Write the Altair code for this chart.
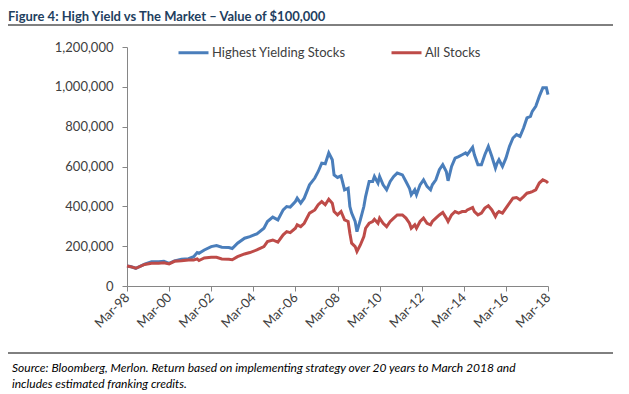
import altair as alt
import pandas as pd

TITLE = "Figure 4: High Yield vs The Market \u2013 Value of $100,000"
SOURCE_1 = "Source: Bloomberg, Merlon. Return based on implementing strategy over 20 years to March 2018 and"
SOURCE_2 = "includes estimated franking credits."
SERIES = ["Highest Yielding Stocks", "All Stocks"]
COLORS = ["#4A7EBB", "#BE4B48"]

dates = [
    "1998-03-01", "1998-05-01", "1998-08-01", "1999-01-01", "1999-05-01", "1999-09-01",
    "1999-12-01", "2000-03-01", "2000-06-01", "2000-10-01", "2001-02-01", "2001-05-01",
    "2001-07-01", "2001-08-01", "2001-11-01", "2002-03-01", "2002-06-01", "2002-09-01",
    "2003-01-01", "2003-03-01", "2003-06-01", "2003-10-01", "2004-01-01", "2004-05-01",
    "2004-09-01", "2004-11-01", "2005-02-01", "2005-05-01", "2005-08-01", "2005-10-01",
    "2005-12-01", "2006-03-01", "2006-04-01", "2006-06-01", "2006-08-01", "2006-11-01",
    "2007-02-01", "2007-04-01", "2007-06-01", "2007-08-01", "2007-10-01", "2007-12-01",
    "2008-01-01", "2008-03-01", "2008-05-01", "2008-07-01", "2008-09-01", "2008-10-01",
    "2008-11-01", "2009-01-01", "2009-02-01", "2009-04-01", "2009-06-01", "2009-07-01",
    "2009-09-01", "2009-11-01", "2009-12-01", "2010-02-01", "2010-03-01", "2010-05-01",
    "2010-07-01", "2010-09-01", "2010-11-01", "2011-01-01", "2011-04-01", "2011-06-01",
    "2011-08-01", "2011-09-01", "2011-11-01", "2011-12-01", "2012-02-01", "2012-04-01",
    "2012-06-01", "2012-08-01", "2012-09-01", "2012-11-01", "2013-01-01", "2013-03-01",
    "2013-05-01", "2013-06-01", "2013-08-01", "2013-10-01", "2013-12-01", "2014-02-01",
    "2014-04-01", "2014-05-01", "2014-08-01", "2014-09-01", "2014-11-01", "2015-01-01",
    "2015-03-01", "2015-05-01", "2015-07-01", "2015-09-01", "2015-10-01", "2015-11-01",
    "2016-01-01", "2016-03-01", "2016-05-01", "2016-07-01", "2016-09-01", "2016-11-01",
    "2017-01-01", "2017-03-01", "2017-05-01", "2017-06-01", "2017-08-01", "2017-10-01",
    "2017-12-01", "2018-02-01", "2018-03-01",
]

highest = [
    100000, 98000, 89000, 110000, 122000, 122000,
    124000, 114000, 126000, 134000, 137000, 147000,
    168000, 164000, 181000, 198000, 203000, 195000,
    193000, 188000, 215000, 240000, 248000, 262000,
    290000, 324000, 346000, 332000, 382000, 399000,
    396000, 424000, 441000, 416000, 441000, 508000,
    542000, 575000, 617000, 614000, 668000, 634000,
    558000, 545000, 553000, 483000, 491000, 399000,
    366000, 324000, 273000, 332000, 399000, 449000,
    525000, 525000, 550000, 517000, 550000, 508000,
    483000, 525000, 550000, 567000, 558000, 525000,
    491000, 458000, 483000, 458000, 508000, 533000,
    500000, 483000, 508000, 533000, 584000, 609000,
    575000, 528000, 600000, 642000, 650000, 659000,
    668000, 659000, 696000, 659000, 609000, 609000,
    659000, 701000, 650000, 592000, 617000, 634000,
    600000, 642000, 701000, 743000, 760000, 751000,
    793000, 844000, 852000, 877000, 902000, 952000,
    995000, 995000, 961000,
]

all_stocks = [
    100000, 97000, 89000, 108000, 114000, 114000,
    117000, 111000, 124000, 127000, 131000, 131000,
    136000, 128000, 141000, 144000, 144000, 136000,
    134000, 132000, 147000, 161000, 168000, 181000,
    198000, 223000, 231000, 220000, 257000, 273000,
    268000, 290000, 307000, 298000, 315000, 366000,
    382000, 408000, 424000, 408000, 436000, 416000,
    374000, 357000, 374000, 332000, 324000, 265000,
    215000, 198000, 173000, 206000, 248000, 290000,
    315000, 324000, 335000, 315000, 341000, 315000,
    298000, 324000, 341000, 357000, 357000, 341000,
    315000, 290000, 307000, 290000, 324000, 341000,
    315000, 307000, 324000, 341000, 357000, 369000,
    341000, 324000, 357000, 374000, 366000, 374000,
    374000, 382000, 394000, 374000, 357000, 366000,
    391000, 403000, 382000, 349000, 366000, 374000,
    366000, 391000, 416000, 441000, 444000, 433000,
    449000, 466000, 471000, 474000, 483000, 517000,
    533000, 525000, 517000,
]

y_ticks = [0, 200000, 400000, 600000, 800000, 1000000, 1200000]
x_tick_years = [1998, 2000, 2002, 2004, 2006, 2008, 2010, 2012, 2014, 2016, 2018]

n = len(dates)
df = pd.DataFrame({
    "date": dates + dates,
    "value": highest + all_stocks,
    "series": [SERIES[0]] * n + [SERIES[1]] * n,
    "order": [0] * n + [1] * n,
})

FONT = "Lato"
AXIS_GREY = "#868686"
LABEL = "#404040"

x_enc = alt.X(
    "date:T",
    scale=alt.Scale(type="utc", domain=[alt.DateTime(year=1998, month=3, date=1, utc=True),
                                        alt.DateTime(year=2018, month=3, date=1, utc=True)]),
    axis=alt.Axis(
        values=[alt.DateTime(year=y, month=3, date=1, utc=True) for y in x_tick_years],
        labelExpr="utcFormat(datum.value, '%b-%y')", labelAngle=-45, labelAlign="right",
        labelBaseline="middle", labelPadding=4, tickSize=5, tickColor=AXIS_GREY,
        domainColor=AXIS_GREY, labelFont=FONT, labelFontSize=13, labelColor=LABEL,
        grid=False, title=None, labelOverlap=False,
    ),
)
y_enc = alt.Y(
    "value:Q",
    scale=alt.Scale(domain=[0, 1200000], nice=False),
    axis=alt.Axis(
        values=y_ticks, format=",.0f", tickSize=5, tickColor=AXIS_GREY, domainColor=AXIS_GREY,
        labelFont=FONT, labelFontSize=13, labelColor=LABEL, labelPadding=9,
        grid=False, title=None,
    ),
)

lines = alt.Chart(df).mark_line(strokeWidth=3).encode(
    x=x_enc,
    y=y_enc,
    color=alt.Color(
        "series:N",
        scale=alt.Scale(domain=SERIES, range=COLORS),
        legend=alt.Legend(
            title=None, orient="none", legendX=50, legendY=-11, direction="horizontal",
            symbolType="stroke", symbolStrokeWidth=3, symbolSize=900, labelOffset=2,
            labelFont=FONT, labelFontSize=13, labelColor=LABEL, columnPadding=39,
        ),
    ),
    order="order:Q",
)

one = pd.DataFrame({"title": [TITLE], "s1": [SOURCE_1], "s2": [SOURCE_2]})

title = alt.Chart(one).mark_text(
    align="left", baseline="alphabetic", font=FONT, fontSize=13, fontWeight="bold",
    color="#1F3F5F",
).encode(x=alt.value(-119), y=alt.value(-26), text="title:N")

top_rule = alt.Chart(one).mark_rule(color="#000000", strokeWidth=1).encode(
    x=alt.value(-119), x2=alt.value(486), y=alt.value(-22))
bottom_rule = alt.Chart(one).mark_rule(color="#000000", strokeWidth=1).encode(
    x=alt.value(-119), x2=alt.value(486), y=alt.value(306))

src1 = alt.Chart(one).mark_text(
    align="left", baseline="alphabetic", font=FONT, fontSize=12, fontStyle="italic",
    color="#000000",
).encode(x=alt.value(-115), y=alt.value(325), text="s1:N")
src2 = alt.Chart(one).mark_text(
    align="left", baseline="alphabetic", font=FONT, fontSize=12, fontStyle="italic",
    color="#000000",
).encode(x=alt.value(-115), y=alt.value(341), text="s2:N")

chart = alt.layer(lines, title, top_rule, bottom_rule, src1, src2).properties(
    width=421, height=239,
    autosize=alt.AutoSizeParams(type="none"),
    padding={"left": 119, "top": 39, "right": 73, "bottom": 107},
    background="white",
).configure_view(stroke=None)

chart.save("out.html", embed_options={"renderer": "svg", "actions": False})
